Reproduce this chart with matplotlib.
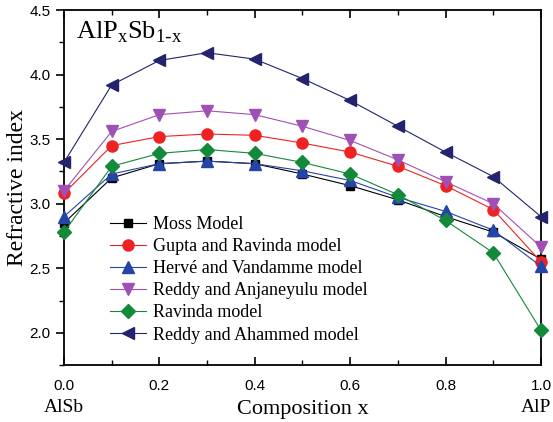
import numpy as np
import matplotlib.pyplot as plt
from matplotlib.ticker import MultipleLocator

x = [0.0, 0.1, 0.2, 0.3, 0.4, 0.5, 0.6, 0.7, 0.8, 0.9, 1.0]

moss = [2.85, 3.20, 3.31, 3.33, 3.31, 3.23, 3.14, 3.03, 2.90, 2.78, 2.57]
gupta = [3.08, 3.45, 3.52, 3.54, 3.53, 3.47, 3.40, 3.29, 3.14, 2.955, 2.55]
herve = [2.90, 3.23, 3.31, 3.33, 3.31, 3.255, 3.18, 3.05, 2.94, 2.795, 2.515]
anjaneyulu = [3.10, 3.56, 3.69, 3.72, 3.69, 3.60, 3.49, 3.34, 3.17, 3.00, 2.665]
ravinda = [2.78, 3.29, 3.39, 3.42, 3.39, 3.32, 3.23, 3.07, 2.87, 2.62, 2.02]
ahammed = [3.32, 3.92, 4.11, 4.17, 4.12, 3.97, 3.80, 3.60, 3.40, 3.21, 2.90]

labels = ["Moss Model", "Gupta and Ravinda model", "Hervé and Vandamme model",
          "Reddy and Anjaneyulu model", "Ravinda model", "Reddy and Ahammed model"]

series = [moss, gupta, herve, anjaneyulu, ravinda, ahammed]
colors = ["#000000", "#ee2222", "#2444a8", "#a050b4", "#138a3a", "#23236e"]
markers = ["s", "o", "^", "v", "D", "<"]
msizes = [6, 8, 8, 8, 7, 8]

fig = plt.figure(figsize=(5.53, 4.22), dpi=100)
ax = fig.add_axes([0.1157, 0.135, 0.8625, 0.841])

for s, lab, c, m, ms in zip(series, labels, colors, markers, msizes):
    ax.plot(x, s, color=c, marker=m, markersize=ms, linewidth=0.8, label=lab, clip_on=False, zorder=3)

ax.set_xlim(0, 1.0)
ax.set_ylim(1.75, 4.5)
ax.xaxis.set_major_locator(MultipleLocator(0.2))
ax.xaxis.set_minor_locator(MultipleLocator(0.1))
ax.yaxis.set_major_locator(MultipleLocator(0.5))
ax.yaxis.set_minor_locator(MultipleLocator(0.25))
ax.tick_params(axis='x', which='both', direction='in', top=True, labelsize=11, pad=10)
ax.tick_params(axis='y', which='both', direction='out', labelsize=11)
ax.tick_params(which='major', length=6, width=1.2)
ax.tick_params(which='minor', length=3.5, width=1.0)
for lab in ax.get_xticklabels() + ax.get_yticklabels():
    lab.set_family('Liberation Sans')
for sp in ax.spines.values():
    sp.set_linewidth(1.3)

ax.set_xlabel("Composition x", family='Liberation Serif', fontsize=16, labelpad=5)
ax.set_ylabel("Refractive index", family='Liberation Serif', fontsize=17, labelpad=1)

ax.text(0.025, 0.975, r"AlP$_\mathregular{x}$Sb$_\mathregular{1\text{-}x}$", transform=ax.transAxes,
        family='Liberation Serif', fontsize=19, va='top', ha='left')
ax.text(0.0, -0.095, "AlSb", transform=ax.transAxes, family='Liberation Serif',
        fontsize=14, ha='center', va='top')
ax.text(0.99, -0.095, "AlP", transform=ax.transAxes, family='Liberation Serif',
        fontsize=14, ha='center', va='top')

ax.legend(loc='lower left', bbox_to_anchor=(0.07, 0.025), frameon=False,
          prop={'family': 'Liberation Serif', 'size': 13}, handlelength=2.0,
          handletextpad=0.4, labelspacing=0.28, borderaxespad=0.3)

fig.savefig("out.png", dpi=100)
